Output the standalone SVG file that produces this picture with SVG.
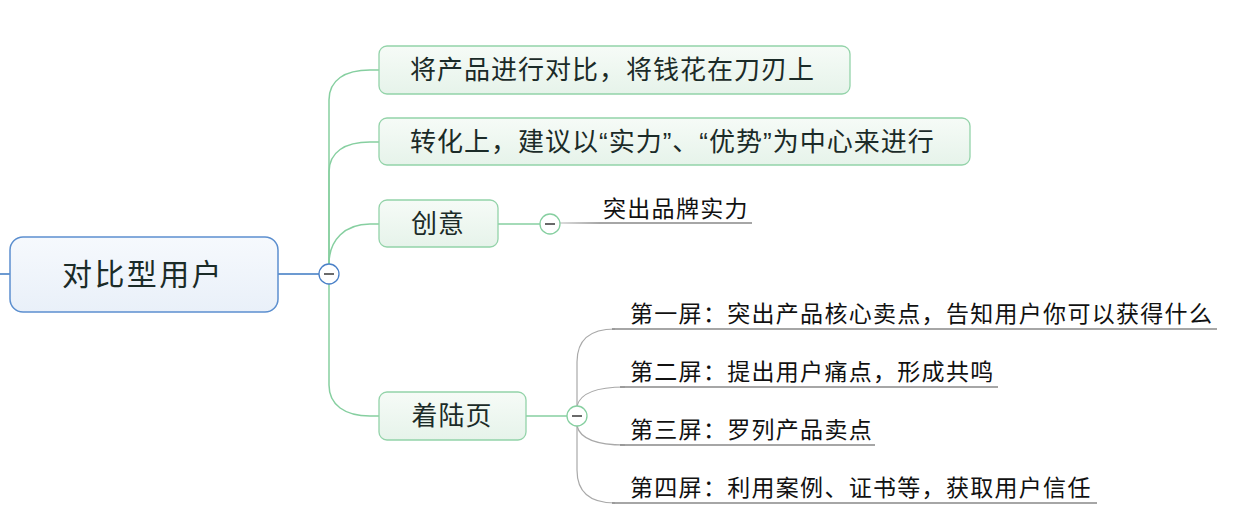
<svg xmlns="http://www.w3.org/2000/svg" width="1236" height="510" viewBox="0 0 1236 510">
<defs>
<linearGradient id="gRoot" x1="0" y1="0" x2="0" y2="1"><stop offset="0" stop-color="#f6f9fd"/><stop offset="1" stop-color="#e9f0f9"/></linearGradient>
<linearGradient id="gNode" x1="0" y1="0" x2="0" y2="1"><stop offset="0" stop-color="#f6fbf7"/><stop offset="1" stop-color="#e6f3ea"/></linearGradient>
<linearGradient id="gFade" gradientUnits="userSpaceOnUse" x1="560" y1="0" x2="600" y2="0"><stop offset="0" stop-color="#888" stop-opacity="0.4"/><stop offset="1" stop-color="#888"/></linearGradient>
</defs>
<style>
.txt{font-family:"Liberation Sans","Noto Sans CJK SC",sans-serif;fill:#1b2b28}
.root{font-size:30px;letter-spacing:2.4px}
.node{font-size:26px;letter-spacing:1px}
.leaf{font-size:23px;letter-spacing:1.3px;fill:#111}
.box{fill:url(#gNode);stroke:#93d3a9;stroke-width:1.3}
.green{fill:none;stroke:#86cfa0;stroke-width:1.5}
.blue{fill:none;stroke:#3b78c2;stroke-width:1.5}
.gray{fill:none;stroke:#a9a9a9;stroke-width:1.2}
.ul{fill:none;stroke:#888;stroke-width:1.3}
.tog{fill:#fff;stroke-width:1.3}
.minus{stroke:#444;stroke-width:1.6}
</style>
<g id="connectors">
<line class="blue" x1="0" y1="274" x2="10" y2="274"/>
<line class="blue" x1="278" y1="274" x2="319" y2="274"/>
<path class="green" d="M329,264 V100 C329,80 345,70 370,70 H379"/>
<path class="green" d="M329,264 V172 C329,152 345,142 370,142 H379"/>
<path class="green" d="M329,264 C329,240 345,224 370,224 H379"/>
<path class="green" d="M329,284 V385 C329,405 345,416 370,416 H379"/>
<line class="green" x1="498" y1="224" x2="540" y2="224"/>
<line class="green" x1="526" y1="416" x2="567" y2="416"/>
<line x1="560" y1="223" x2="600" y2="223" stroke="url(#gFade)" stroke-width="1.3"/>
<line class="ul" x1="600" y1="223" x2="752" y2="223"/>
<path class="gray" d="M577,406 V362 C577,340 590,329 615,329"/>
<path class="gray" d="M577,406 C580,394 595,387 625,387"/>
<path class="gray" d="M577,426 C580,438 595,445 625,445"/>
<path class="gray" d="M577,426 V470 C577,492 590,503 615,503"/>
<line class="ul" x1="612" y1="329" x2="1217" y2="329"/>
<line class="ul" x1="620" y1="387" x2="998" y2="387"/>
<line class="ul" x1="620" y1="445" x2="875" y2="445"/>
<line class="ul" x1="612" y1="503" x2="1097" y2="503"/>
</g>
<g id="root">
<rect x="10" y="237" width="268" height="75" rx="13" fill="url(#gRoot)" stroke="#5c8fcf" stroke-width="1.5"/>
<text class="txt root" x="143" y="274" text-anchor="middle" dominant-baseline="central">对比型用户</text>
<circle class="tog" cx="329" cy="274" r="10" stroke="#4a80c8"/>
<line class="minus" x1="324" y1="274" x2="334" y2="274"/>
</g>
<g id="node1">
<rect class="box" x="379" y="46" width="471" height="48" rx="8"/>
<text class="txt node" x="410" y="70" dominant-baseline="central">将产品进行对比，将钱花在刀刃上</text>
</g>
<g id="node2">
<rect class="box" x="379" y="118" width="591" height="47" rx="8"/>
<text class="txt node" x="410" y="142" dominant-baseline="central">转化上，建议以“实力”、“优势”为中心来进行</text>
</g>
<g id="node3">
<rect class="box" x="379" y="200" width="119" height="47" rx="8"/>
<text class="txt node" x="438" y="224" text-anchor="middle" dominant-baseline="central">创意</text>
<circle class="tog" cx="550" cy="224" r="10" stroke="#86cfa0"/>
<line class="minus" x1="545" y1="224" x2="555" y2="224"/>
</g>
<g id="leaf0">
<text class="txt leaf" x="603" y="217">突出品牌实力</text>
</g>
<g id="node4">
<rect class="box" x="379" y="392" width="147" height="48" rx="8"/>
<text class="txt node" x="452" y="416" text-anchor="middle" dominant-baseline="central">着陆页</text>
<circle class="tog" cx="577" cy="416" r="10" stroke="#86cfa0"/>
<line class="minus" x1="572" y1="416" x2="582" y2="416"/>
</g>
<g id="leaf1"><text class="txt leaf" x="630" y="322">第一屏：突出产品核心卖点，告知用户你可以获得什么</text></g>
<g id="leaf2"><text class="txt leaf" x="630" y="380">第二屏：提出用户痛点，形成共鸣</text></g>
<g id="leaf3"><text class="txt leaf" x="630" y="438">第三屏：罗列产品卖点</text></g>
<g id="leaf4"><text class="txt leaf" x="630" y="496">第四屏：利用案例、证书等，获取用户信任</text></g>
</svg>
